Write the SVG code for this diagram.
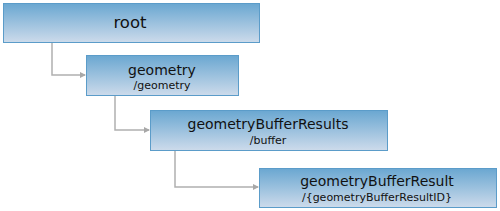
<svg xmlns="http://www.w3.org/2000/svg" width="500" height="211" viewBox="0 0 500 211">
<defs>
<linearGradient id="g" x1="0" y1="0" x2="0" y2="1">
<stop offset="0" stop-color="#6aa7d1"/>
<stop offset="1" stop-color="#cddbeb"/>
</linearGradient>
<marker id="a" markerWidth="6" markerHeight="6" refX="5" refY="3" orient="auto" markerUnits="userSpaceOnUse">
<path d="M0,0 L6,3 L0,6 Z" fill="#a8a8a8"/>
</marker>
</defs>
<style>
.box{fill:url(#g);stroke:#5b9cc9;stroke-width:1}
.t{font-family:"DejaVu Sans",Verdana,sans-serif;fill:#111;text-anchor:middle}
.m{font-size:14px}
.s{font-size:11px}
.c{fill:none;stroke:#b0b0b0;stroke-width:1.5}
</style>
<g id="connectors">
<path class="c" d="M52,43 V75 H85" marker-end="url(#a)"/>
<path class="c" d="M115,96 V130 H149" marker-end="url(#a)"/>
<path class="c" d="M175,151 V187 H258" marker-end="url(#a)"/>
</g>
<g id="root">
<rect class="box" x="3.5" y="3.5" width="256" height="39"/>
<text class="t" x="130" y="28" font-size="16.5">root</text>
</g>
<g id="geometry">
<rect class="box" x="86.5" y="55.5" width="152" height="40"/>
<text class="t m" x="162" y="75">geometry</text>
<text class="t s" x="162" y="89">/geometry</text>
</g>
<g id="geometryBufferResults">
<rect class="box" x="150.5" y="110.5" width="237" height="40"/>
<text class="t m" x="268" y="129">geometryBufferResults</text>
<text class="t s" x="268" y="144">/buffer</text>
</g>
<g id="geometryBufferResult">
<rect class="box" x="259.5" y="168.5" width="237" height="39"/>
<text class="t m" x="377" y="186">geometryBufferResult</text>
<text class="t s" x="377" y="201">/{geometryBufferResultID}</text>
</g>
</svg>
